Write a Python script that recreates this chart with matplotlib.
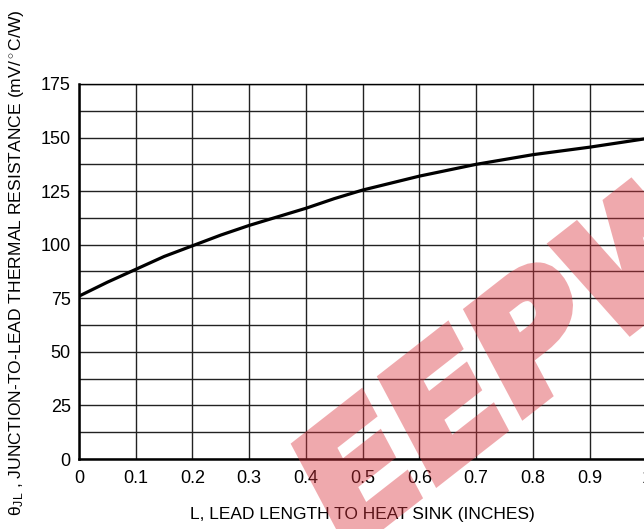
import numpy as np
import matplotlib
matplotlib.use('Agg')
import matplotlib.pyplot as plt
from matplotlib.ticker import MultipleLocator
from matplotlib.textpath import TextPath
from matplotlib.patches import PathPatch
from matplotlib.font_manager import FontProperties
from matplotlib.transforms import Affine2D

plt.rcParams['font.family'] = ['Liberation Sans', 'DejaVu Sans']
plt.rcParams['mathtext.fontset'] = 'custom'
plt.rcParams['mathtext.rm'] = 'Liberation Sans'
plt.rcParams['mathtext.it'] = 'Liberation Sans'

# data
lead_length = [0, 0.05, 0.1, 0.15, 0.2, 0.25, 0.3, 0.35, 0.4, 0.45, 0.5,
               0.6, 0.7, 0.8, 0.9, 1.0]
theta_jl = [76, 82.5, 88.5, 94.5, 99.5, 104.5, 109, 113, 117, 121.5, 125.5,
            132, 137.5, 142, 145.5, 149.5]
x_ticks = [0, 0.1, 0.2, 0.3, 0.4, 0.5, 0.6, 0.7, 0.8, 0.9, 1.0]
x_labels = ['0', '0.1', '0.2', '0.3', '0.4', '0.5', '0.6', '0.7', '0.8', '0.9', '1']
y_ticks = [0, 25, 50, 75, 100, 125, 150, 175]

fig = plt.figure(figsize=(6.44, 5.29), dpi=100)
ax = fig.add_axes([0.1227, 0.1323, 0.881, 0.709])

ax.plot(lead_length, theta_jl, color='black', lw=2.3, solid_capstyle='butt', zorder=3)

ax.set_xlim(0, 1)
ax.set_ylim(0, 175)
ax.set_xticks(x_ticks)
ax.set_xticklabels(x_labels)
ax.set_yticks(y_ticks)
ax.yaxis.set_minor_locator(MultipleLocator(12.5))
ax.grid(True, which='both', color='#222222', lw=1.0)
ax.set_axisbelow(True)
ax.tick_params(which='both', length=0, labelsize=13)
ax.tick_params(axis='y', pad=6)
ax.tick_params(axis='x', pad=8)

for side in ['left', 'bottom']:
    ax.spines[side].set_linewidth(1.8)
ax.spines['top'].set_linewidth(1.0)
ax.spines['right'].set_linewidth(1.0)

ax.set_xlabel('L, LEAD LENGTH TO HEAT SINK (INCHES)', fontsize=12.5, labelpad=14)
fig.text(17 / 644, 13 / 529,
         r'θ$_{\mathrm{JL}}$ , JUNCTION-TO-LEAD THERMAL RESISTANCE (mV/$^\circ$C/W)',
         rotation=90, ha='center', va='bottom', fontsize=12.6)


# watermark: slanted heavy EEPW, drawn opaque then faded as a whole
def fade(img, dpi):
    out = img.copy()
    out[..., 3] *= 0.42
    return out, 0, 0


size = 160
base = np.deg2rad(38)
up = np.deg2rad(28)
wm = TextPath((0, 0), 'EEPW', size=1, prop=FontProperties(family='DejaVu Sans', weight='bold'))
mtx = np.array([[np.cos(base) * size, -np.sin(up) * size, 340],
                [np.sin(base) * size, np.cos(up) * size, -28],
                [0, 0, 1]])
wm_col = (0.86, 0.2, 0.24)
patch = PathPatch(wm, facecolor=wm_col, edgecolor=wm_col, lw=7, joinstyle='miter',
                  transform=Affine2D(mtx), zorder=10)
patch.set_agg_filter(fade)
fig.add_artist(patch)

plt.savefig('out.png', dpi=100)
